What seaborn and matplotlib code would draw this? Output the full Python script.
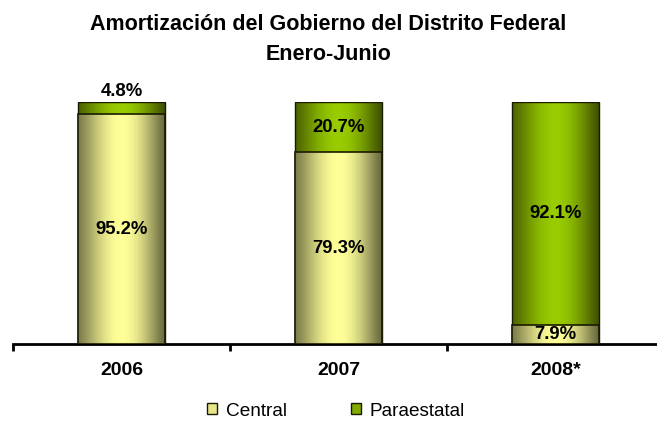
import numpy as np
import pandas as pd
import matplotlib
matplotlib.use("Agg")
import matplotlib.pyplot as plt
from matplotlib.colors import to_rgb
from matplotlib.patches import Patch
import seaborn as sns

years = ["2006", "2007", "2008*"]
central = [95.2, 79.3, 7.9]
paraestatal = [4.8, 20.7, 92.1]

df = pd.DataFrame({"Year": years, "Central": central, "Paraestatal": paraestatal})
df["Total"] = df["Central"] + df["Paraestatal"]

sns.set_theme(style="white")
plt.rcParams["font.family"] = ["Liberation Sans", "DejaVu Sans"]
plt.rcParams["text.color"] = "black"
plt.rcParams["xtick.color"] = "black"
plt.rcParams["xtick.labelcolor"] = "black"


def shade(left, mid, right, n=256):
    # cylinder-like horizontal shading, dark at both edges
    t = np.linspace(0, 1, n)
    f = np.sin(np.pi * t) ** 1.2
    edge = np.outer(1 - t, to_rgb(left)) + np.outer(t, to_rgb(right))
    img = edge + (np.array(to_rgb(mid)) - edge) * f[:, None]
    return np.clip(img[np.newaxis, :, :], 0, 1)


green_img = shade("#4d6400", "#99cc00", "#3f5200")
yellow_img = shade("#7c7c4c", "#ffff99", "#686840")

fig = plt.figure(figsize=(6.57, 4.21), dpi=100)
ax = fig.add_axes([13 / 657, 1 - 344 / 421, 651 / 657, (344 - 102.5) / 421])

bar_w = 0.40
sns.barplot(data=df, x="Year", y="Total", color="#99cc00", width=bar_w, ax=ax,
            edgecolor="#1a1a00", linewidth=1.0)
n_green = len(ax.patches)
sns.barplot(data=df, x="Year", y="Central", color="#ffff99", width=bar_w, ax=ax,
            edgecolor="#1a1a00", linewidth=1.2)

for i, patch in enumerate(ax.patches):
    img = green_img if i < n_green else yellow_img
    z = 2 if i < n_green else 4
    x0, y0 = patch.get_x(), patch.get_y()
    w, h = patch.get_width(), patch.get_height()
    im = ax.imshow(img, extent=[x0, x0 + w, y0, y0 + h], aspect="auto", zorder=z)
    im.set_clip_path(patch)
    patch.set_facecolor("none")
    patch.set_zorder(z + 0.5)

ax.set_xlim(-0.5, 2.5)
ax.set_ylim(0, 100)

for i in range(len(years)):
    ax.text(i, central[i] / 2, f"{central[i]}%", ha="center", va="center",
            fontsize=13.3, fontweight="bold", zorder=10)
    if paraestatal[i] < 8:
        ax.annotate(f"{paraestatal[i]}%", (i, 100), xytext=(0, 1.5), textcoords="offset points",
                    ha="center", va="bottom", fontsize=13.3, fontweight="bold", zorder=10)
    else:
        ax.text(i, central[i] + paraestatal[i] / 2, f"{paraestatal[i]}%", ha="center", va="center",
                fontsize=13.3, fontweight="bold", zorder=10)

ax.set_xlabel("")
ax.set_ylabel("")
ax.set_yticks([])
for s in ["left", "right", "top"]:
    ax.spines[s].set_visible(False)
ax.spines["bottom"].set_linewidth(2)
ax.spines["bottom"].set_color("black")

ax.set_xticks([-0.5, 0.5, 1.5, 2.5])
ax.set_xticklabels([])
ax.tick_params(axis="x", which="major", direction="out", length=5, width=2, color="black", bottom=True)
ax.set_xticks(range(len(years)), minor=True)
ax.set_xticklabels(years, minor=True, fontsize=14, fontweight="bold")
ax.tick_params(axis="x", which="minor", length=0, pad=13)

fig.text(0.5, 1 - 25 / 421, "Amortización del Gobierno del Distrito Federal", ha="center", va="center",
         fontsize=15.5, fontweight="bold")
fig.text(0.5, 1 - 55 / 421, "Enero-Junio", ha="center", va="center", fontsize=15.5, fontweight="bold")

handles = [Patch(facecolor="#e6e68a", edgecolor="#1a1a00", label="Central"),
           Patch(facecolor="#80aa00", edgecolor="#1a1a00", label="Paraestatal")]
fig.legend(handles=handles, loc="center", bbox_to_anchor=(336 / 657, 1 - 411 / 421), ncol=2,
           frameon=False, fontsize=13.7, handlelength=0.5, handleheight=0.5, handletextpad=0.45,
           columnspacing=3.4, borderpad=0)

fig.savefig("out.png", dpi=100)
